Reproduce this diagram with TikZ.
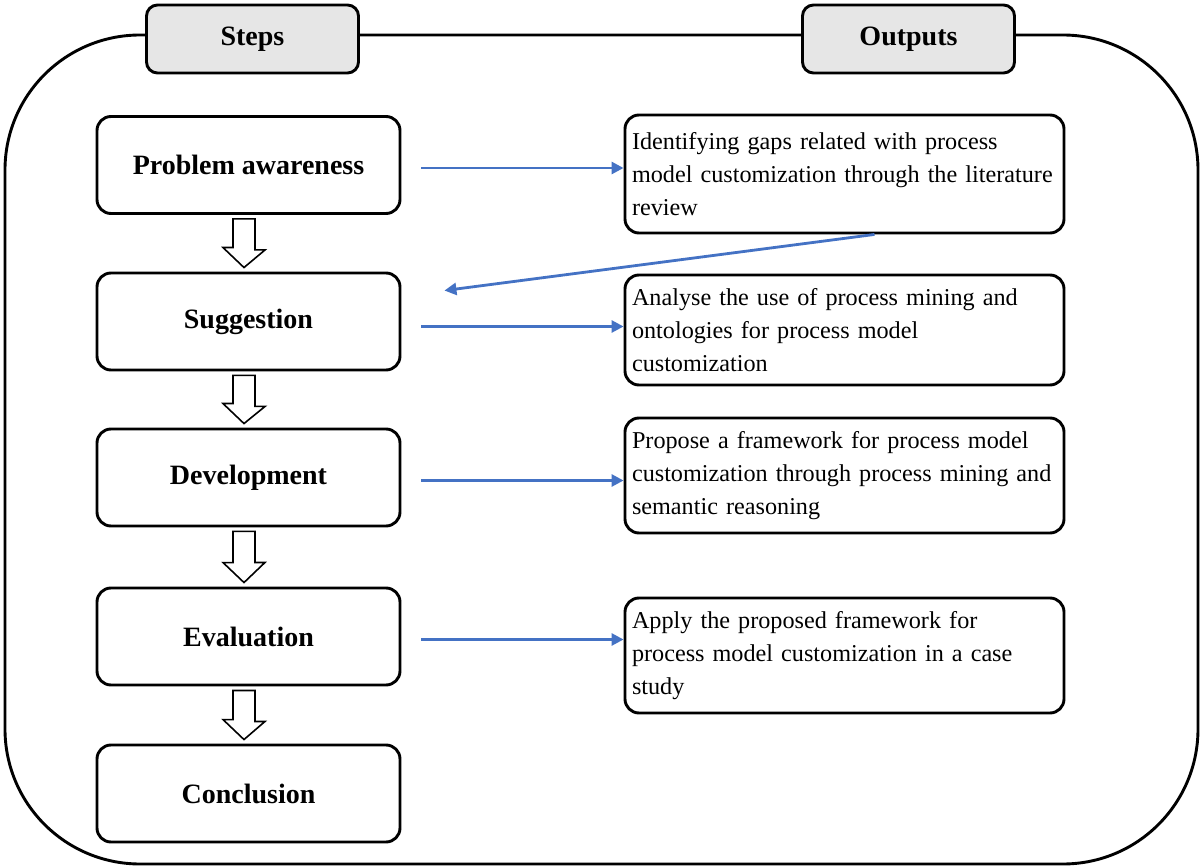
\documentclass[tikz,border=0pt]{standalone}
\usepackage{fontspec}
\setmainfont{Liberation Serif}
\usetikzlibrary{arrows.meta,calc}
\definecolor{arrowblue}{HTML}{4472C4}
\definecolor{tabgray}{HTML}{E6E6E6}
\tikzset{
  x=1pt,y=1pt,
  stepbox/.style={draw,line width=2.9pt,rounded corners=14pt,minimum width=303pt,minimum height=97pt,
    font=\fontsize{28}{32}\selectfont\bfseries,inner sep=0pt},
  outbox/.style={draw,line width=2.9pt,rounded corners=14pt,minimum width=439pt,text width=425pt,align=left,
    inner xsep=7pt,inner ysep=0pt,font=\fontsize{24.2}{33}\selectfont},
  tabbox/.style={draw,line width=2.9pt,rounded corners=11pt,fill=tabgray,minimum width=212pt,minimum height=68pt,
    font=\fontsize{28}{32}\selectfont\bfseries,inner sep=0pt},
  frame/.style={draw,line width=2.9pt,rounded corners=135pt,inner sep=0pt},
  bluearrow/.style={draw=arrowblue,line width=2.8pt,-{Triangle[length=12pt,width=12pt]}},
  hollow/.style={draw,line width=1.6pt,fill=white,line join=miter}
}
\begin{document}
\begin{tikzpicture}
\useasboundingbox (0,0) rectangle (1203,-866);
\node[frame,minimum width=1193pt,minimum height=829pt] (fr) at (601.5,-449.5) {};
\node[tabbox] (steps) at (252.5,-39) {Steps};
\node[tabbox] (outs) at (908.5,-39) {Outputs};

\node[stepbox] (pa) at (248.5,-165) {Problem awareness};
\node[stepbox] (sg) at (248.5,-321.5) {Suggestion};
\node[stepbox] (dv) at (248.5,-477.5) {Development};
\node[stepbox] (ev) at (248.5,-636.5) {Evaluation};
\node[stepbox] (cn) at (248.5,-793.5) {Conclusion};

\node[outbox,minimum height=118pt] (o1) at (844.5,-174) {Identifying gaps related with process\\model customization through the literature\\review};
\node[outbox,minimum height=110pt] (o2) at (844.5,-330) {Analyse the use of process mining and\\ontologies for process model\\customization};
\node[outbox,minimum height=115pt] (o3) at (844.5,-475.5) {Propose a framework for process model\\customization through process mining and\\semantic reasoning};
\node[outbox,minimum height=115pt] (o4) at (844.5,-655.5) {Apply the proposed framework for\\process model customization in a case\\study};

% hollow arrows between steps
\foreach \a/\b in {pa/sg,sg/dv,dv/ev,ev/cn}{
  \draw[hollow] ($(\a.south)+(-15.5,-4)$) -- ++(22,0) -- ++(0,-31) -- ++(10,0) -- ($(\b.north)+(-4.5,4)$)
    -- ++(-21,20) -- ++(10,0) -- cycle;
}

% blue arrows
\draw[bluearrow] ([xshift=20pt,yshift=-3pt]pa.east) -- ([yshift=-3pt]pa.east -| o1.west);
\draw[bluearrow] ([xshift=20pt,yshift=-5pt]sg.east) -- ([yshift=-5pt]sg.east -| o2.west);
\draw[bluearrow] ([xshift=20pt,yshift=-3pt]dv.east) -- ([yshift=-3pt]dv.east -| o3.west);
\draw[bluearrow] ([xshift=20pt,yshift=-3pt]ev.east) -- ([yshift=-3pt]ev.east -| o4.west);
\coordinate (dg) at ($(sg.north east)+(43,-19)$);
\draw[bluearrow] ([xshift=30pt]o1.south) -- (dg);
\end{tikzpicture}
\end{document}
